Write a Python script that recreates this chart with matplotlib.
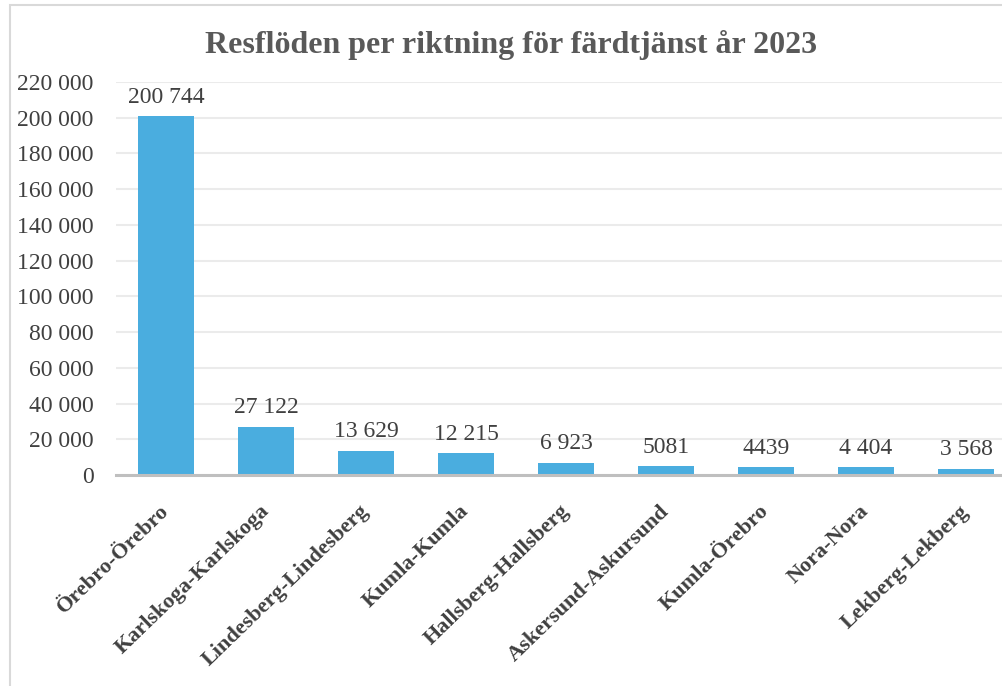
import matplotlib.pyplot as plt
from matplotlib.patches import Rectangle

# Data
routes = ["Örebro-Örebro", "Karlskoga-Karlskoga", "Lindesberg-Lindesberg",
          "Kumla-Kumla", "Hallsberg-Hallsberg", "Askersund-Askursund",
          "Kumla-Örebro", "Nora-Nora", "Lekberg-Lekberg"]
trips = [200744, 27122, 13629, 12215, 6923, 5081, 4439, 4404, 3568]
trip_labels = ["200 744", "27 122", "13 629", "12 215", "6 923",
               "5081", "4439", "4 404", "3 568"]
yticks = list(range(0, 220001, 20000))
ytick_labels = ["0" if v == 0 else f"{v // 1000} 000" for v in yticks]

plt.rcParams['font.family'] = ['Liberation Serif', 'DejaVu Serif']

fig = plt.figure(figsize=(10.03, 6.86), dpi=100)
ax = fig.add_axes([116 / 1003, 1 - 475 / 686, 900 / 1003, (475 - 82) / 686])

# light frame around the chart (right/bottom are cut off in the original)
fig.patches.append(Rectangle((10 / 1003, -0.1), 1.2, 1 - 5 / 686 + 0.1,
                             transform=fig.transFigure, fill=False,
                             edgecolor='#D9D9D9', linewidth=1.5))

x = range(len(routes))
ax.bar(x, trips, width=0.56, color='#4AADDF', zorder=3)
for i, (v, lab) in enumerate(zip(trips, trip_labels)):
    ax.annotate(lab, (i, v), xytext=(0, 6), textcoords='offset points',
                ha='center', va='bottom', fontsize=17, color='#404040')

ax.set_xlim(-0.5, len(routes) - 0.5)
ax.set_ylim(0, 220000)
ax.set_yticks(yticks)
ax.set_yticklabels(ytick_labels, fontsize=17, color='#404040')
ax.set_xticks(list(x))
ax.set_xticklabels(routes, rotation=44, ha='right', va='center',
                   rotation_mode='anchor', fontsize=16, fontweight='bold',
                   color='#404040')
ax.tick_params(axis='y', length=0, pad=16)
ax.tick_params(axis='x', length=0, pad=24)

ax.grid(axis='y', color='#EBEBEB', linewidth=1.5, zorder=0)
for s in ['top', 'right', 'left']:
    ax.spines[s].set_visible(False)
ax.spines['bottom'].set_color('#BFBFBF')
ax.spines['bottom'].set_linewidth(2.2)
ax.spines['bottom'].set_zorder(4)

fig.text(511 / 1003, 1 - 45 / 686, "Resflöden per riktning för färdtjänst år 2023",
         ha='center', va='center', fontsize=23, fontweight='bold', color='#595959')

fig.savefig('out.png', dpi=100)
